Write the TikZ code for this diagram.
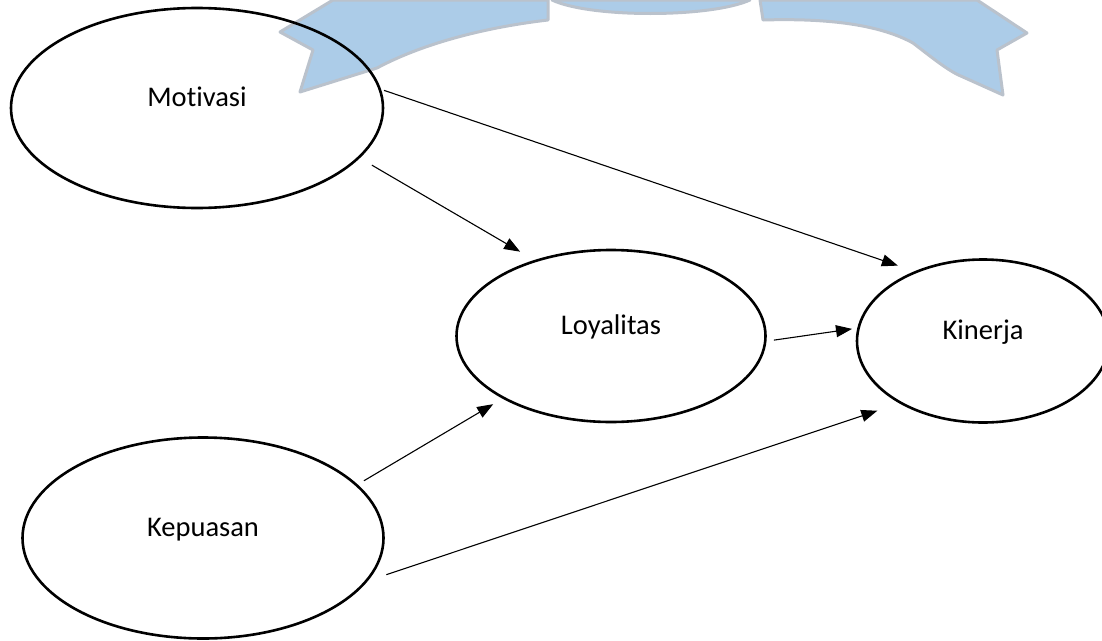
\documentclass[tikz,border=0pt]{standalone}
\usepackage{fontspec}
\setmainfont{Carlito}[Ligatures=NoCommon]
\usetikzlibrary{shapes.geometric,arrows.meta}
\definecolor{wmblue}{RGB}{172,204,232}
\definecolor{wmedge}{RGB}{186,194,204}

\begin{document}
\begin{tikzpicture}[x=1pt, y=-1pt, >={Triangle[length=16pt,width=12pt]},
    var/.style={ellipse, draw, line width=2.6pt, inner sep=0pt, outer sep=0pt,
        text height=0pt, text depth=4pt, font=\fontsize{28.5}{34}\selectfont},
    link/.style={->, line width=1.1pt}]
    \useasboundingbox (0,0) rectangle (1102,640);

    % Watermark
    \begin{scope}[fill=wmblue, draw=wmedge, line width=3pt, line join=round]
    \filldraw (333,0) -- (280,32) -- (313,50) -- (300,92) -- (377,68)
        .. controls (420,45) and (480,28) .. (548,20) -- (548,0) -- cycle;
    \filldraw (552,0) .. controls (590,18) and (710,18) .. (750,0) -- cycle;
    \filldraw (760,0) -- (763,20) .. controls (830,18) and (880,25) .. (913,43)
        .. controls (935,60) and (950,72) .. (963,77) -- (1003,95) -- (997,50)
        -- (1027,33) -- (977,0) -- cycle;
    \end{scope}

    % Variables
    \node[var, minimum width=372pt, minimum height=200pt] (mot) at (197,108) {Motivasi};
    \node[var, minimum width=361pt, minimum height=201pt] (kep) at (203,538) {Kepuasan};
    \node[var, minimum width=309pt, minimum height=172pt] (loy) at (611,336) {Loyalitas};
    \node[var, minimum width=252pt, minimum height=163pt] (kin) at (983,341) {Kinerja};

    % Paths
    \draw[link, shorten <=15.3pt, shorten >=18.2pt] (mot.343.1) -- (loy.135.5);
    \draw[link, shorten <=4.7pt, shorten >=19.4pt] (mot.6.75) -- (kin.134.5);
    \draw[link, shorten <=8.8pt, shorten >=6.7pt] (loy.358.5) -- (kin.174.1);
    \draw[link, shorten <=8.6pt, shorten >=12.3pt] (kep.19.4) -- (loy.210.9);
    \draw[link, shorten <=21.8pt, shorten >=24.9pt] (kep.345.3) -- (kin.217.4);
\end{tikzpicture}
\end{document}
